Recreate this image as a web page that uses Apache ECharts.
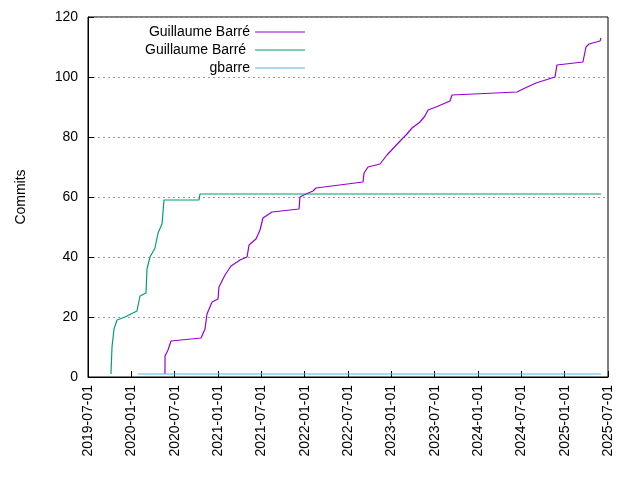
<!DOCTYPE html>
<html>
<head>
<meta charset="utf-8">
<script src="https://cdn.jsdelivr.net/npm/echarts@6/dist/echarts.min.js"></script>
<style>body{margin:0;background:#fff}#chart{width:640px;height:480px}</style>
</head>
<body>
<div id="chart"></div>
<script>
// decimal years, with commit counts
var purpleYears = [2020.388,2020.389,2020.423,2020.458,2020.804,2020.850,2020.873,2020.931,2021.000,2021.011,2021.081,2021.150,2021.254,2021.335,2021.358,2021.438,2021.485,2021.519,2021.623,2021.935,2021.946,2022.015,2022.096,2022.131,2022.673,2022.685,2022.731,2022.869,2022.950,2023.112,2023.181,2023.238,2023.331,2023.388,2023.423,2023.515,2023.677,2023.700,2024.450,2024.519,2024.669,2024.888,2024.911,2025.211,2025.246,2025.281,2025.408,2025.419];
var purpleCommits = [1,7,9,12,13,16,21,25,26,30,34,37,39,40,44,46,49,53,55,56,60,61,62,63,65,68,70,71,74,79,81,83,85,87,89,90,92,94,95,96,98,100,104,105,110,111,112,113];
var greenYears = [2019.765,2019.777,2019.800,2019.835,2019.927,2020.065,2020.100,2020.169,2020.181,2020.215,2020.273,2020.308,2020.354,2020.377,2020.781,2020.792,2025.419];
var greenCommits = [1,10,16,19,20,22,27,28,36,40,43,48,51,59,59,61,61];
var blueYears = [2020.077,2025.419];
var blueCommits = [1,1];

function pairs(xs, ys) {
    return xs.map(function (x, i) { return [x, ys[i]]; });
}

var font = 'Liberation Sans';
var myChart = echarts.init(document.getElementById('chart'));
var option = {
    animation: false,
    textStyle: {fontFamily: font},
    grid: {left: 88, right: 32, top: 17, bottom: 103, show: true, borderColor: '#000', borderWidth: 1},
    legend: {
        orient: 'vertical', left: 140, top: 20, align: 'right',
        itemWidth: 50, itemHeight: 1, itemGap: 4, icon: 'rect',
        textStyle: {fontFamily: font, fontSize: 14, color: '#000'},
        data: ['Guillaume Barré', 'Guillaume Barré ', 'gbarre']
    },
    xAxis: {
        type: 'value', min: 2019.5, max: 2025.5, interval: 0.5,
        axisLine: {lineStyle: {color: '#000'}},
        axisTick: {inside: true, length: 6, lineStyle: {color: '#000'}},
        splitLine: {show: false},
        axisLabel: {
            rotate: 90, fontSize: 14, color: '#000', margin: 8,
            formatter: function (v) {
                var y = Math.floor(v + 1e-6);
                return y + (v - y > 0.25 ? '-07-01' : '-01-01');
            }
        }
    },
    yAxis: {
        type: 'value', min: 0, max: 120, interval: 20,
        name: 'Commits', nameLocation: 'center', nameGap: 60, nameRotate: 90,
        nameTextStyle: {fontSize: 14, color: '#000', fontFamily: font},
        axisLine: {show: true, lineStyle: {color: '#000'}},
        axisTick: {inside: true, length: 6, lineStyle: {color: '#000'}},
        axisLabel: {fontSize: 14, color: '#000', margin: 10},
        splitLine: {show: true, lineStyle: {color: '#999', type: [2, 3], width: 1}}
    },
    series: [
        {name: 'Guillaume Barré', type: 'line', showSymbol: false, color: '#9400d3', lineStyle: {width: 1.2}, data: pairs(purpleYears, purpleCommits)},
        {name: 'Guillaume Barré ', type: 'line', showSymbol: false, color: '#009e73', lineStyle: {width: 1.2}, data: pairs(greenYears, greenCommits)},
        {name: 'gbarre', type: 'line', showSymbol: false, color: '#56b4e9', lineStyle: {width: 1.2}, data: pairs(blueYears, blueCommits)}
    ]
};
myChart.setOption(option);
</script>
</body>
</html>
